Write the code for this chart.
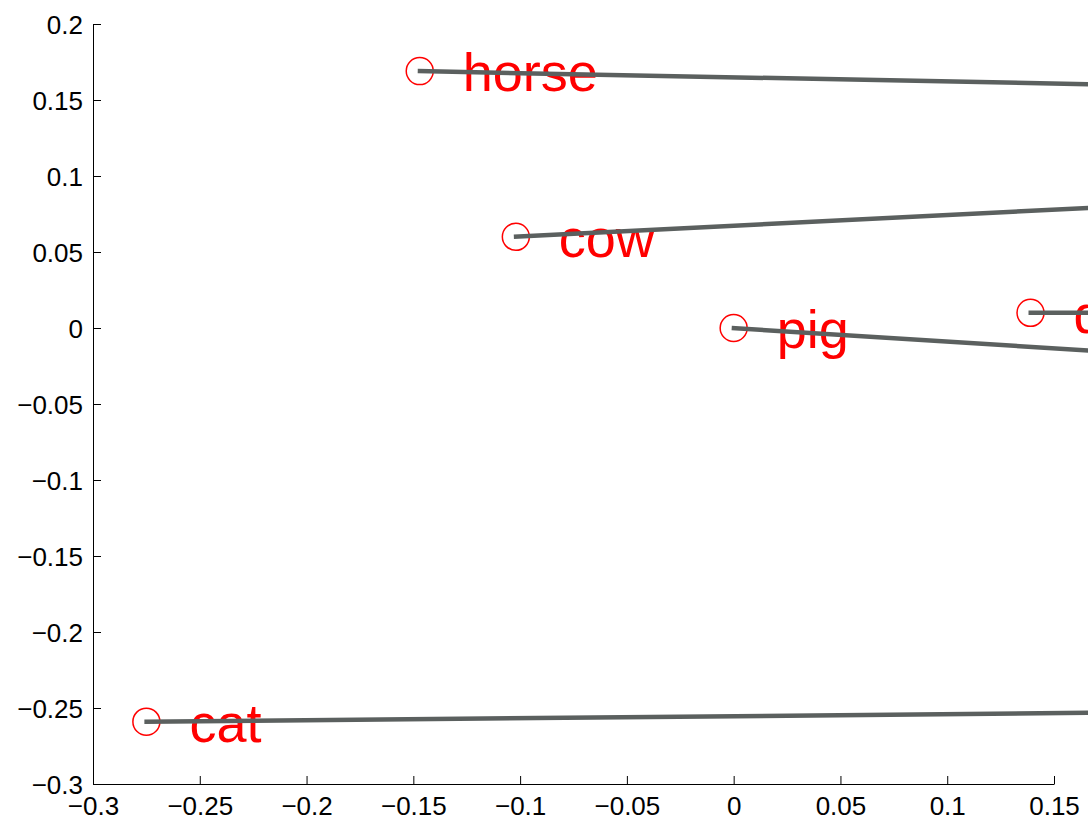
<!DOCTYPE html>
<html>
<head>
<meta charset="utf-8">
<script src="https://cdn.jsdelivr.net/npm/d3@7"></script>
<style>
  body { margin: 0; background: #fff; }
  svg { display: block; font-family: "Liberation Sans", Arial, sans-serif; }
  .tick text { font-size: 26px; fill: #000; }
  .domain, .tick line { stroke: #000; stroke-width: 1; }
  .label { font-size: 54px; fill: #ff0000; }
  .marker { fill: none; stroke: #ff0000; stroke-width: 1.5; }
  .link { stroke: #5b605f; stroke-width: 4.5; fill: none; }
</style>
</head>
<body>
<div id="chart"></div>
<script>
const width = 1088;
const height = 824;
const margin = { left: 93, top: 24, right: 34, bottom: 40 };

// animals placed in the plane
const names = ["horse", "cow", "pig", "dog", "cat"];
const xValues = [-0.147, -0.102, 0, 0.139, -0.275];
const yValues = [0.169, 0.060, 0, 0.010, -0.259];

// other end of each line (lies past the right edge of the picture)
const endX = [0.18, 0.18, 0.18, 0.18, 0.18];
const endY = [0.160, 0.080, -0.016, 0.010, -0.253];

const xTicks = [-0.3, -0.25, -0.2, -0.15, -0.1, -0.05, 0, 0.05, 0.1, 0.15];
const yTicks = [-0.3, -0.25, -0.2, -0.15, -0.1, -0.05, 0, 0.05, 0.1, 0.15, 0.2];

let points;
let svg;
let xScale;
let yScale;

function createChart() {
  points = names.map((name, i) => ({
    name: name,
    x: xValues[i],
    y: yValues[i],
    x2: endX[i],
    y2: endY[i],
  }));

  svg = d3
    .select("#chart")
    .append("svg")
    .attr("width", width)
    .attr("height", height);

  xScale = d3
    .scaleLinear()
    .domain([-0.3, 0.15])
    .range([margin.left, width - margin.right]);

  yScale = d3
    .scaleLinear()
    .domain([-0.3, 0.2])
    .range([height - margin.bottom, margin.top]);

  const fmt = d3.format("");

  svg
    .append("g")
    .attr("transform", "translate(0," + (height - margin.bottom) + ")")
    .call(
      d3
        .axisBottom(xScale)
        .tickValues(xTicks)
        .tickFormat(fmt)
        .tickSizeInner(-8)
        .tickSizeOuter(0)
        .tickPadding(13)
    )
    .selectAll(".tick text")
    .attr("dy", "0.71em");

  svg
    .append("g")
    .attr("transform", "translate(" + margin.left + ",0)")
    .call(
      d3
        .axisLeft(yScale)
        .tickValues(yTicks)
        .tickFormat(fmt)
        .tickSizeInner(-8)
        .tickSizeOuter(0)
        .tickPadding(10)
    )
    .selectAll(".tick text")
    .attr("dy", "0.38em");

  svg
    .selectAll(".marker")
    .data(points)
    .enter()
    .append("circle")
    .classed("marker", true)
    .attr("cx", (d) => xScale(d.x))
    .attr("cy", (d) => yScale(d.y))
    .attr("r", 13.5);

  svg
    .selectAll(".label")
    .data(points)
    .enter()
    .append("text")
    .classed("label", true)
    .attr("x", (d) => xScale(d.x) + 43)
    .attr("y", (d) => yScale(d.y) + 20)
    .text((d) => d.name);

  svg
    .selectAll(".link")
    .data(points)
    .enter()
    .append("line")
    .classed("link", true)
    .attr("x1", (d) => xScale(d.x) - 2)
    .attr("y1", (d) => yScale(d.y))
    .attr("x2", (d) => xScale(d.x2))
    .attr("y2", (d) => yScale(d.y2));
}

createChart();
</script>
</body>
</html>
